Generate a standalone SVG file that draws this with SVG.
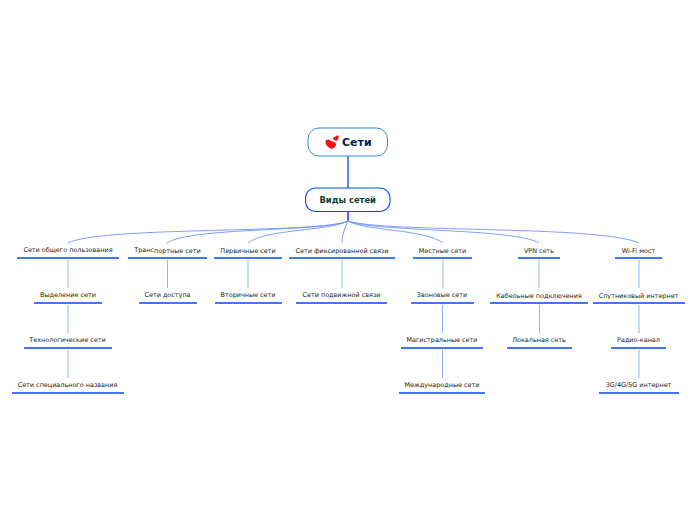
<svg xmlns="http://www.w3.org/2000/svg" width="696" height="520" viewBox="0 0 696 520">
<style>
.t{font-family:"DejaVu Sans",Verdana,sans-serif;font-size:6.450px;fill:#222;text-anchor:middle}
.u{stroke:#0048ff;stroke-width:1.600;fill:none}
.c{stroke:#6f93ff;stroke-width:.9;fill:none}
.v{stroke:#92afff;stroke-width:1;fill:none}
.h{fill:#f01018}
</style>
<rect width="696" height="520" fill="#fff"/>
<g id="connectors">
<path d="M348 156V188" stroke="#1f5fe8" stroke-width="1.500" fill="none"/>
<path d="M348 212V221" stroke="#0048ff" stroke-width="1.600" fill="none"/>
<path class="c" d="M348 221C320 234 100 226 68 243"/>
<path class="c" d="M348 221C325 232 190 227 167 243"/>
<path class="c" d="M348 221C330 231 265 229 248 243"/>
<path class="c" d="M348 221C345 228 342 234 342 243"/>
<path class="c" d="M348 221C365 231 425 229 443 243"/>
<path class="c" d="M348 221C372 232 515 228 539 243"/>
<path class="c" d="M348 221C385 233 600 225 639 243"/>
<path class="v" d="M68 260V288M68 305V333M68 350V378M167.500 260V288M248 260V288M342 260V288M443 260V288M442.500 305V333M442.500 350V378M539 260V288M539.500 305V333M639 260V288M639 305V333M639 350V378"/>
</g>
<g id="root">
<rect x="308" y="128" width="79.500" height="28" rx="11" fill="#fff" stroke="#2f8fd8" stroke-width="1"/>
<path class="h" d="M331 141C329 138.500 325.500 139 325.500 142C325.500 145.500 329 148 332 149C335 147.500 337 145 335.500 143C334.500 141.500 332.500 141.500 331 141Z"/>
<path class="h" d="M334.500 137C333 137 332.500 138.500 333.500 139.500C334.500 140.500 336.500 140.800 337.500 140.500C338.500 139 339 137 338.500 135.800C337.500 135 336 135.500 334.500 137Z"/>
<text x="342" y="146" style="font-family:'DejaVu Sans',Verdana,sans-serif;font-size:11px;font-weight:700;fill:#0b1f4b">Сети</text>
</g>
<g id="types">
<rect x="305.500" y="188" width="84.500" height="23.500" rx="10" fill="#fff" stroke="#0048ff" stroke-width="1.100"/>
<text x="347.700" y="203" style="font-family:'DejaVu Sans',Verdana,sans-serif;font-size:8.400px;font-weight:700;fill:#0c3b2e;text-anchor:middle">Виды сетей</text>
</g>
<g id="n1"><text class="t" x="68" y="252">Сети общего пользования</text><path class="u" d="M17 258H119"/></g>
<g id="n2"><text class="t" x="167.500" y="253"><tspan dy="-1">Транс</tspan><tspan dy="1">портные сети</tspan></text><path class="u" d="M128 258H207"/></g>
<g id="n3"><text class="t" x="248" y="253">Первичные сети</text><path class="u" d="M214 258H282"/></g>
<g id="n4"><text class="t" x="342" y="253">Сети фиксированной связи</text><path class="u" d="M289 258H395"/></g>
<g id="n5"><text class="t" x="442.500" y="253">Местные сети</text><path class="u" d="M413 258H472"/></g>
<g id="n6"><text class="t" x="539" y="253">VPN сеть</text><path class="u" d="M518 258H560"/></g>
<g id="n7"><text class="t" x="638.500" y="253">Wi-Fi мост</text><path class="u" d="M615 258H662"/></g>
<g id="n8"><text class="t" x="68" y="297">Выделение сети</text><path class="u" d="M34 303H102"/></g>
<g id="n9"><text class="t" x="167.500" y="297">Сети доступа</text><path class="u" d="M139 303H197"/></g>
<g id="n10"><text class="t" x="248" y="297">Вторичные сети</text><path class="u" d="M215 303H282"/></g>
<g id="n11"><text class="t" x="341.500" y="297">Сети подвижной связи</text><path class="u" d="M296 303H387"/></g>
<g id="n12"><text class="t" x="442" y="297">Звоновые сети</text><path class="u" d="M411 303H474"/></g>
<g id="n13"><text class="t" x="539" y="298">Кабельные подключения</text><path class="u" d="M490 303H588"/></g>
<g id="n14"><text class="t" x="638.500" y="298">Спутниковый интернет</text><path class="u" d="M593 303H685"/></g>
<g id="n15"><text class="t" x="67.500" y="342">Технологические сети</text><path class="u" d="M24 348H112"/></g>
<g id="n16"><text class="t" x="442" y="342">Магистральные сети</text><path class="u" d="M401 348H483"/></g>
<g id="n17"><text class="t" x="539" y="342">Локальная сеть</text><path class="u" d="M507 348H572"/></g>
<g id="n18"><text class="t" x="638.500" y="342">Радио-канал</text><path class="u" d="M611 348H666"/></g>
<g id="n19"><text class="t" x="67.500" y="387">Сети специального названия</text><path class="u" d="M12 393H124"/></g>
<g id="n20"><text class="t" x="442" y="387">Международные сети</text><path class="u" d="M399 393H485"/></g>
<g id="n21"><text class="t" x="638.500" y="387">3G/4G/5G интернет</text><path class="u" d="M599 393H679"/></g>
</svg>
